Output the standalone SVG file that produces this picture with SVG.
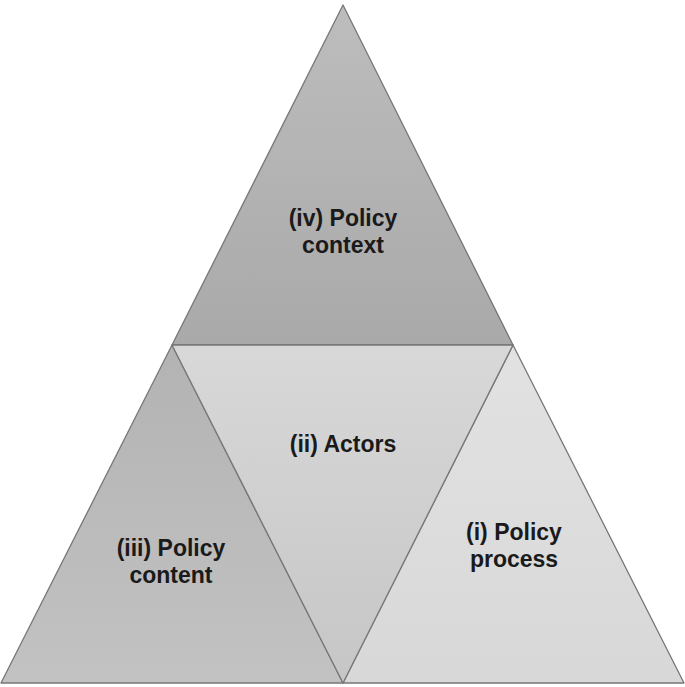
<svg xmlns="http://www.w3.org/2000/svg" width="685" height="687" viewBox="0 0 685 687">
<defs>
<linearGradient id="gTop" x1="0" y1="0" x2="0" y2="1"><stop offset="0" stop-color="#bdbdbd"/><stop offset="1" stop-color="#a9a9a9"/></linearGradient>
<linearGradient id="gLeft" x1="0" y1="0" x2="0" y2="1"><stop offset="0" stop-color="#b3b3b3"/><stop offset="1" stop-color="#c2c2c2"/></linearGradient>
<linearGradient id="gMid" x1="0" y1="0" x2="0" y2="1"><stop offset="0" stop-color="#d8d8d8"/><stop offset="1" stop-color="#c6c6c6"/></linearGradient>
<linearGradient id="gRight" x1="0" y1="0" x2="0" y2="1"><stop offset="0" stop-color="#e2e2e2"/><stop offset="1" stop-color="#d8d8d8"/></linearGradient>
</defs>
<style>
.tri{stroke:#777;stroke-width:1.3;stroke-linejoin:round}
.lbl{font-family:"Liberation Sans",Arial,sans-serif;font-weight:bold;font-size:23px;fill:#1a1a1a;text-anchor:middle}
</style>
<rect width="685" height="687" fill="#fff"/>
<g id="top"><polygon class="tri" fill="url(#gTop)" points="343,5 513,345 172,345"/>
<text class="lbl" x="343" y="226">(iv) Policy</text><text class="lbl" x="343" y="253">context</text></g>
<g id="left"><polygon class="tri" fill="url(#gLeft)" points="172,345 343,683 1,683"/>
<text class="lbl" x="171" y="556">(iii) Policy</text><text class="lbl" x="171" y="583">content</text></g>
<g id="right"><polygon class="tri" fill="url(#gRight)" points="513,345 684,683 343,683"/>
<text class="lbl" x="514" y="540">(i) Policy</text><text class="lbl" x="514" y="567">process</text></g>
<g id="middle"><polygon class="tri" fill="url(#gMid)" points="172,345 513,345 343,683"/>
<text class="lbl" x="343" y="452">(ii) Actors</text></g>
</svg>
